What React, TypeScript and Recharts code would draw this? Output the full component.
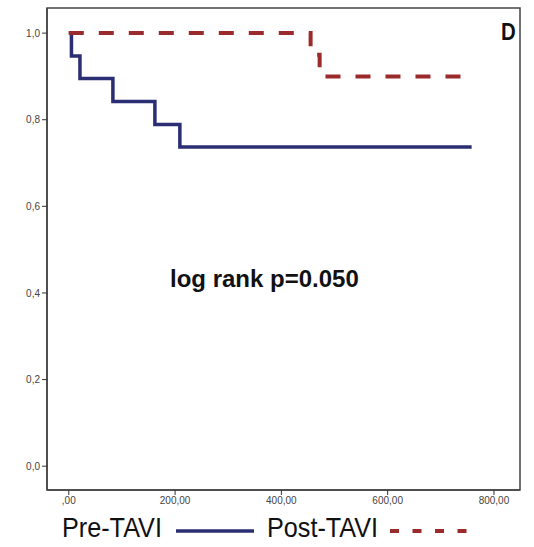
import { Line, LineChart, ReferenceArea, XAxis, YAxis } from "recharts";

// survival estimates
const preTaviTimes = [0, 5, 21, 83, 162, 209, 758];
const preTaviSurvival = [1, 0.947, 0.895, 0.842, 0.789, 0.737, 0.737];
const postTaviTimes = [0, 455, 472, 750];
const postTaviSurvival = [1, 0.95, 0.9, 0.9];

const xTicks = [0, 200, 400, 600, 800];
const yTicks = [0, 0.2, 0.4, 0.6, 0.8, 1];

const preData = preTaviTimes.map((t, i) => ({ t, s: preTaviSurvival[i] }));
const postData = postTaviTimes.map((t, i) => ({ t, s: postTaviSurvival[i] }));

const X_DOMAIN: [number, number] = [-41, 849];
const Y_DOMAIN: [number, number] = [-0.055, 1.058];

const PRE_COLOR = "#2b2e72";
const POST_COLOR = "#9a2a2c";

const fmtX = (v: number) => (v === 0 ? ",00" : `${v},00`);
const fmtY = (v: number) => v.toFixed(1).replace(".", ",");

const tickStyle = { fontSize: 10, fill: "#444", fontFamily: "Liberation Sans, Arial, sans-serif" };

const abs = (left: number, top: number, extra: React.CSSProperties = {}): React.CSSProperties => ({
  position: "absolute",
  left,
  top,
  whiteSpace: "nowrap",
  transformOrigin: "left center",
  ...extra,
});

export default function App() {
  return (
    <div
      style={{
        position: "absolute",
        left: 0,
        top: 0,
        width: 534,
        height: 547,
        background: "#fff",
        fontFamily: "Liberation Sans, Arial, sans-serif",
        color: "#111",
      }}
    >
      <LineChart width={534} height={547} margin={{ top: 8, right: 14, bottom: 32, left: 0 }}>
        <XAxis
          type="number"
          dataKey="t"
          domain={X_DOMAIN}
          ticks={xTicks}
          tickFormatter={fmtX}
          allowDataOverflow
          height={25}
          tick={tickStyle}
          tickSize={5}
          axisLine={{ stroke: "#444", strokeWidth: 1.5 }}
          tickLine={{ stroke: "#333" }}
        />
        <YAxis
          type="number"
          dataKey="s"
          domain={Y_DOMAIN}
          ticks={yTicks}
          tickFormatter={fmtY}
          allowDataOverflow
          width={47}
          tick={tickStyle}
          tickSize={5}
          axisLine={{ stroke: "#444", strokeWidth: 1.5 }}
          tickLine={{ stroke: "#333" }}
        />
        <ReferenceArea
          x1={X_DOMAIN[0]}
          x2={X_DOMAIN[1]}
          y1={Y_DOMAIN[0]}
          y2={Y_DOMAIN[1]}
          fill="none"
          stroke="#444"
          strokeWidth={1.5}
        />
        <Line
          data={preData}
          dataKey="s"
          type="stepAfter"
          stroke={PRE_COLOR}
          strokeWidth={3.5}
          dot={false}
          isAnimationActive={false}
        />
        <Line
          data={postData}
          dataKey="s"
          type="stepAfter"
          stroke={POST_COLOR}
          strokeWidth={4}
          strokeDasharray="15 15"
          dot={false}
          isAnimationActive={false}
        />
      </LineChart>

      <div style={abs(170, 265, { fontSize: 24, fontWeight: "bold" })}>log rank p=0.050</div>
      <div style={abs(501, 18, { fontSize: 24, fontWeight: "bold", transform: "scaleX(0.85)" })}>D</div>

      {/* legend */}
      <div style={abs(62, 512, { fontSize: 28, transform: "scaleX(0.9)" })}>Pre-TAVI</div>
      <svg width={534} height={12} style={{ position: "absolute", left: 0, top: 525 }}>
        <line x1={176} y1={6} x2={254} y2={6} stroke={PRE_COLOR} strokeWidth={3.5} />
        <line x1={390} y1={6} x2={468} y2={6} stroke={POST_COLOR} strokeWidth={4} strokeDasharray="9 13.5" />
      </svg>
      <div style={abs(267, 512, { fontSize: 28, transform: "scaleX(0.9)" })}>Post-TAVI</div>
    </div>
  );
}
